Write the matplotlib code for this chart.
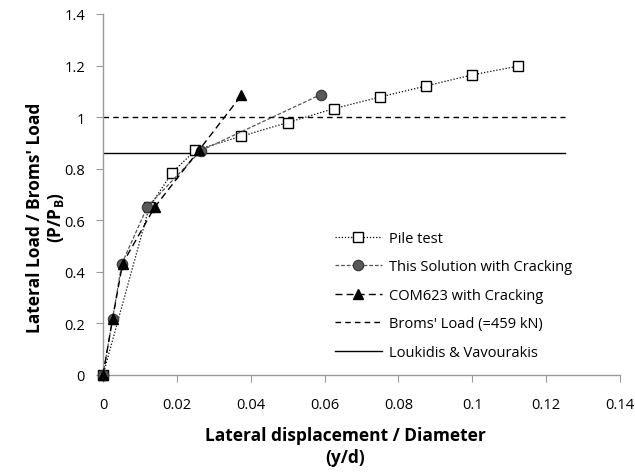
import matplotlib.pyplot as plt
import numpy as np

plt.rcParams['font.family'] = ['Open Sans', 'DejaVu Sans']

# pile test (measured)
pile_x = [0.0, 0.0125, 0.01875, 0.025, 0.0375, 0.05, 0.0625, 0.075, 0.0875, 0.1, 0.1125]
pile_y = [0.0, 0.65, 0.785, 0.872, 0.926, 0.979, 1.033, 1.078, 1.121, 1.164, 1.198]

# this solution with cracking
sol_x = [0.0, 0.0026, 0.0051, 0.0120, 0.0265, 0.0589]
sol_y = [0.0, 0.219, 0.432, 0.652, 0.870, 1.087]

# COM623 with cracking
com_x = [0.0, 0.0026, 0.0053, 0.0140, 0.0260, 0.0375]
com_y = [0.0, 0.219, 0.432, 0.651, 0.872, 1.085]

broms_x = [0.0, 0.125]
broms_y = [1.0, 1.0]
louk_x = [0.0, 0.125]
louk_y = [0.86, 0.86]

W, H = 635, 477
fig = plt.figure(figsize=(W / 100, H / 100), dpi=100)
ax = fig.add_axes([103 / W, 1 - 376 / H, 517 / W, (376 - 15) / H])

ax.plot(pile_x, pile_y, color='black', linestyle=(0, (1, 1.5)), linewidth=0.9,
        marker='s', markersize=7, markerfacecolor='white', markeredgecolor='black',
        markeredgewidth=1.0, label='Pile test', zorder=3, clip_on=False)
ax.plot(sol_x, sol_y, color='#555555', linestyle=(0, (3, 1.5)), linewidth=0.9,
        marker='o', markersize=7.5, markerfacecolor='#595959', markeredgecolor='#333333',
        markeredgewidth=0.8, label='This Solution with Cracking', zorder=4, clip_on=False)
ax.plot(com_x, com_y, color='black', linestyle=(0, (5, 3)), linewidth=1.0,
        marker='^', markersize=7.5, markerfacecolor='black', markeredgecolor='black',
        label='COM623 with Cracking', zorder=5, clip_on=False)
ax.plot(broms_x, broms_y, color='black', linestyle=(0, (4, 3)), linewidth=1.0,
        label="Broms' Load (=459 kN)")
ax.plot(louk_x, louk_y, color='black', linestyle='-', linewidth=1.0,
        label='Loukidis & Vavourakis')

ax.set_xlim(0, 0.14)
ax.set_ylim(0, 1.4)
ax.set_xticks(np.arange(0, 0.141, 0.02))
ax.set_yticks(np.arange(0, 1.41, 0.2))
ax.set_xticklabels(['0', '0.02', '0.04', '0.06', '0.08', '0.1', '0.12', '0.14'])
ax.set_yticklabels(['0', '0.2', '0.4', '0.6', '0.8', '1', '1.2', '1.4'])

for side in ['top', 'right']:
    ax.spines[side].set_visible(False)
for side in ['left', 'bottom']:
    ax.spines[side].set_color('#999999')
    ax.spines[side].set_linewidth(1.0)
ax.tick_params(axis='both', direction='out', length=5, color='#999999',
               labelsize=10.5)
ax.tick_params(axis='x', pad=11)
ax.tick_params(axis='y', pad=8)

ax.set_xlabel('Lateral displacement / Diameter\n(y/d)', fontsize=12.5,
              fontweight='bold', linespacing=1.3)
ax.xaxis.set_label_coords((345 - 103) / 517, (376 - 427) / (376 - 15))
ax.set_ylabel("Lateral Load / Broms' Load\n(P/P$_\\mathregular{B}$)", fontsize=12.5,
              fontweight='bold', linespacing=1.15)
ax.yaxis.set_label_coords((66 - 103) / 517, (376 - 218) / (376 - 15))

ax.legend(loc='upper left', bbox_to_anchor=(335 / W, 1 - 232 / H),
          bbox_transform=fig.transFigure, frameon=False,
          fontsize=10.5, handlelength=3.2, handletextpad=0.5, labelspacing=0.92,
          borderaxespad=0, borderpad=0)

fig.savefig('out.png', dpi=100)
